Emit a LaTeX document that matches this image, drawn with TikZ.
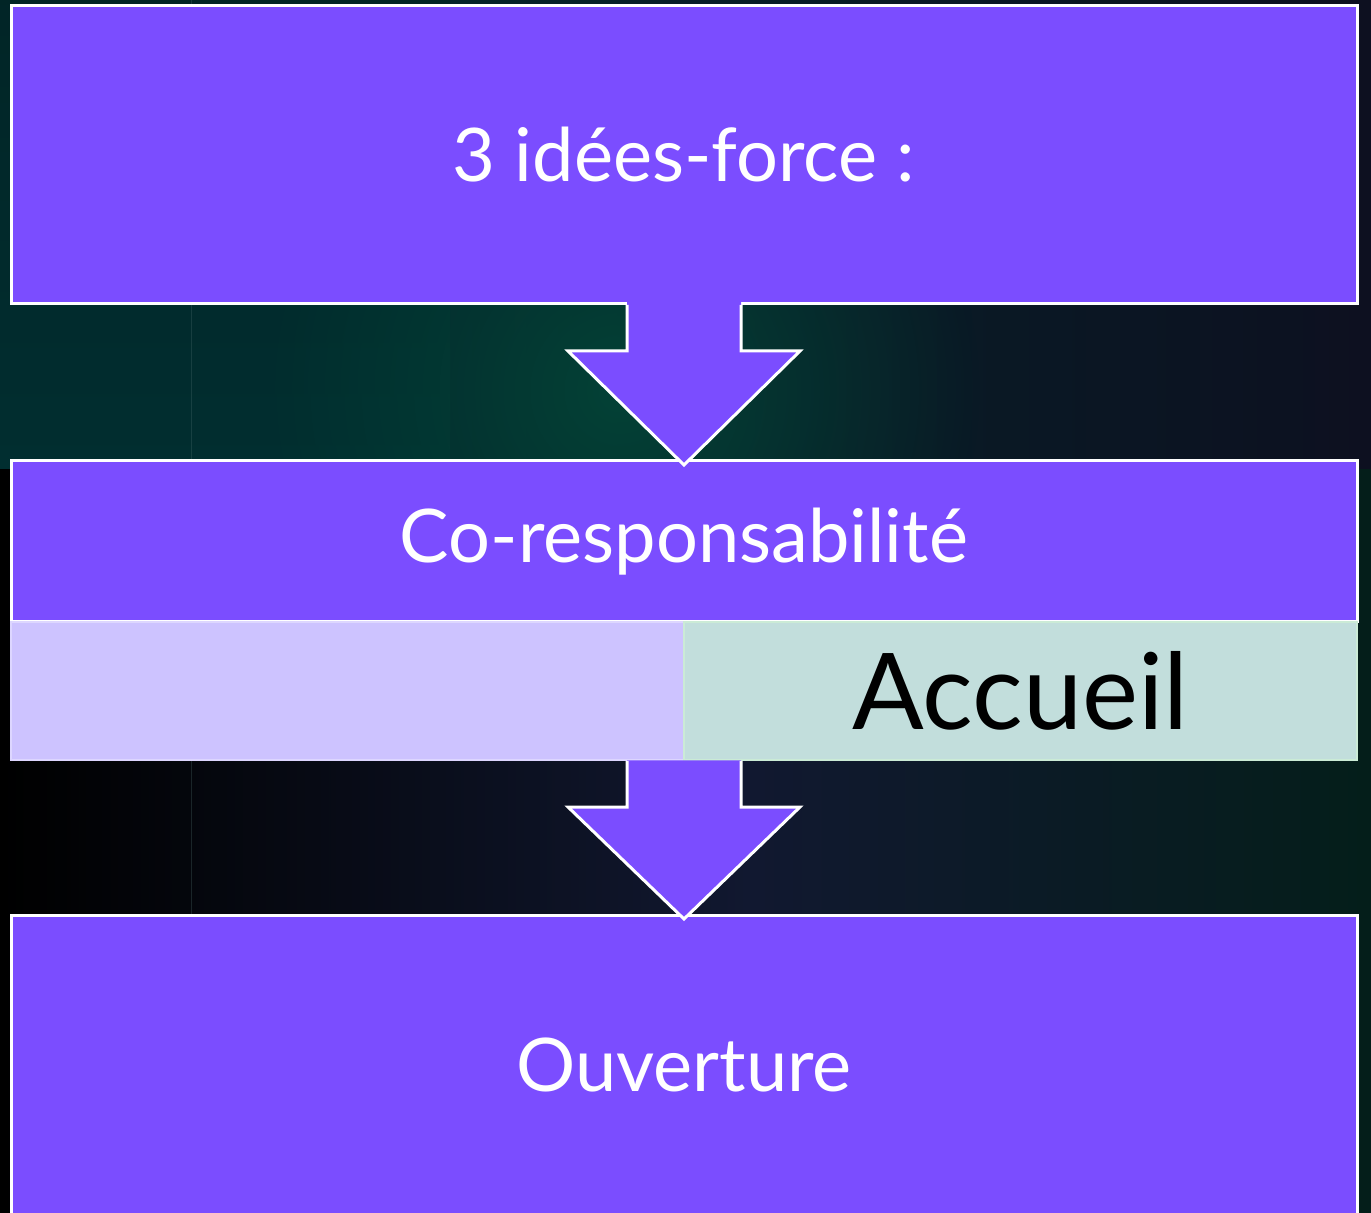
\documentclass[tikz,border=0pt]{standalone}
\usepackage{fontspec}
\setmainfont{Lato}
\usepackage{tikz}
\usetikzlibrary{calc,fadings}
\definecolor{violet}{HTML}{7B4DFF}
\definecolor{lavande}{HTML}{CDC3FF}
\definecolor{lavbord}{HTML}{DDD6FF}
\definecolor{menthe}{HTML}{C2DEDC}
\definecolor{menbord}{HTML}{CBEBD6}
\definecolor{fondnuit}{HTML}{0D1020}
\definecolor{fondbleu}{HTML}{012E30}
\definecolor{fondvert}{HTML}{034236}
\definecolor{fondsombre}{HTML}{041E1A}
\definecolor{fondmilieu}{HTML}{111830}
\tikzfading[name=halo, inner color=transparent!0, outer color=transparent!100]
\tikzset{
  bloc/.style={draw=white, line width=1.5pt, fill=violet, text=white,
    minimum width=673pt, outer sep=0pt, inner sep=0pt},
  bande/.style={line width=0.8pt, minimum width=336.5pt, minimum height=69pt,
    outer sep=0pt, inner sep=0pt},
  fleche/.style={fill=violet},
  bordfleche/.style={draw=white, line width=1.5pt, line join=miter}
}
\begin{document}
\begin{tikzpicture}[x=0.5pt,y=-0.5pt]
%%Fond
\useasboundingbox (0,0) rectangle (1371,1213);
\clip (0,0) rectangle (1371,1213);
\fill[fondnuit] (0,0) rectangle (1371,1213);
\shade[left color=fondbleu, right color=fondnuit] (0,0) rectangle (1371,470);
\shade[top color=fondbleu!80!black, bottom color=fondbleu] (0,0) rectangle (450,470);
\shade[left color=black, right color=fondmilieu] (0,470) rectangle (750,1213);
\shade[left color=fondmilieu, right color=fondsombre] (750,470) rectangle (1371,1213);
\fill[fondvert, path fading=halo] (620,390) circle (360);
\draw[fondbleu!70!white, opacity=0.3, line width=0.4pt] (191,0) -- (191,1213);

%%Blocs
\node (idees) [bloc, minimum height=149pt, font=\fontsize{37}{40}\selectfont]
  at (684,155) {3 idées-force :};
\node (coresp) [bloc, minimum height=80.5pt, font=\fontsize{37}{40}\selectfont]
  at (684,541.5) {Co-responsabilité};
\node (gauche) [bande, draw=lavbord, fill=lavande, anchor=north east]
  at (684,622) {};
\node (accueil) [bande, draw=menbord, fill=menthe, anchor=north west,
  font=\fontsize{53}{56}\selectfont] at (684,622) {Accueil};
\node (ouvert) [bloc, minimum height=150pt, font=\fontsize{37}{40}\selectfont]
  at (684,1065) {Ouverture};

%%Fleches
\coordinate (depart1) at (idees.south);
\coordinate (depart2) at (gauche.south east);
\foreach \dep/\arr/\h in {depart1/coresp/-2.5, depart2/ouvert/0.4}{
  \fill[fleche] ($(\dep)+(-57,\h)$) -- ($(\dep)+(-57,47)$) -- ($(\dep)+(-116,47)$)
    -- ($(\arr.north)+(0,4)$) -- ($(\dep)+(116,47)$) -- ($(\dep)+(57,47)$)
    -- ($(\dep)+(57,\h)$) -- cycle;
  \draw[bordfleche] ($(\dep)+(-57,0.8)$) -- ($(\dep)+(-57,47)$) -- ($(\dep)+(-116,47)$)
    -- ($(\arr.north)+(0,4)$) -- ($(\dep)+(116,47)$) -- ($(\dep)+(57,47)$)
    -- ($(\dep)+(57,0.8)$);
}
\end{tikzpicture}
\end{document}
